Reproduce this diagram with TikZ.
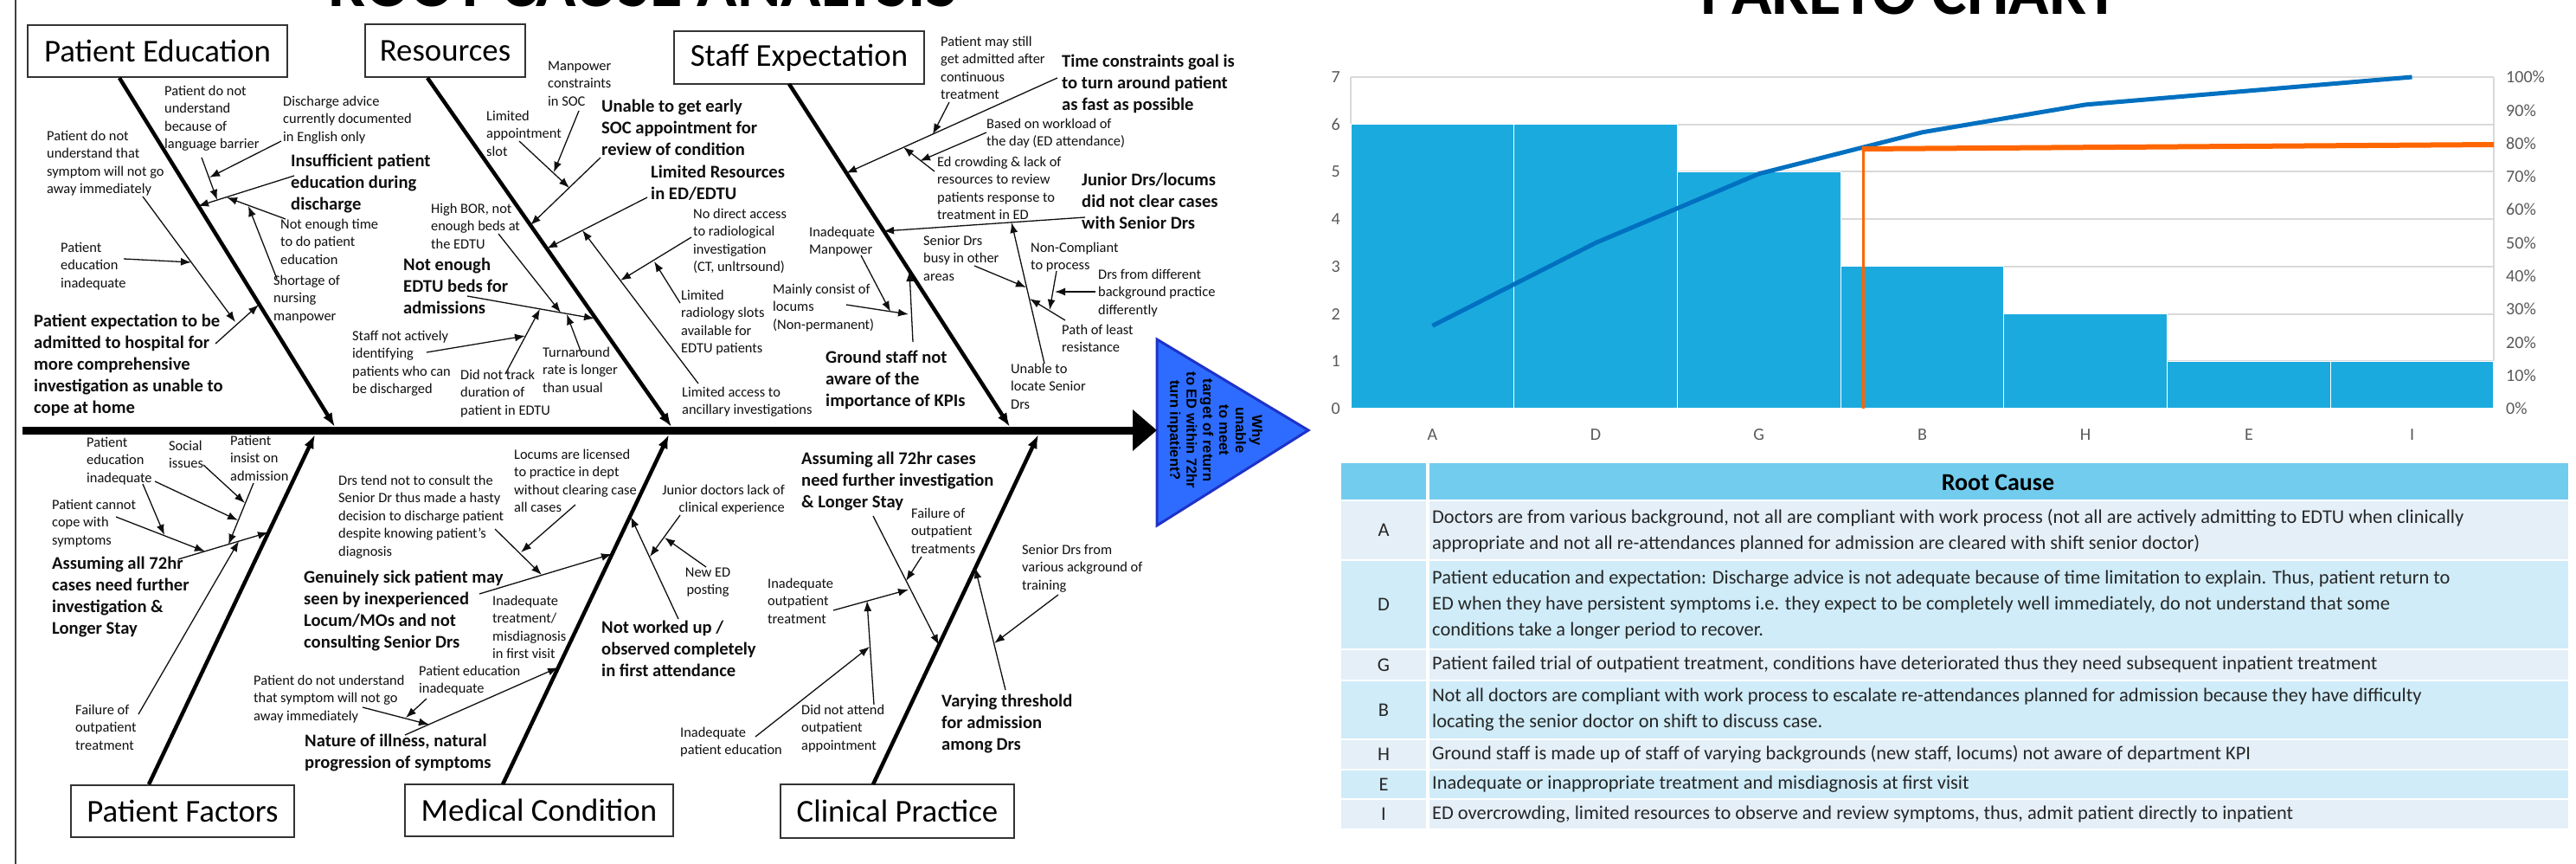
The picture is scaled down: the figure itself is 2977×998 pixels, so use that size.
\documentclass[tikz,border=0pt]{standalone}
\usepackage{fontspec}
\setmainfont{Carlito}
\newfontfamily\arialfont{Liberation Sans}
\usetikzlibrary{arrows.meta}
\definecolor{ink}{RGB}{15,15,15}
\definecolor{goalfill}{RGB}{45,108,255}
\definecolor{goaledge}{RGB}{30,50,200}
\definecolor{barblue}{RGB}{27,170,222}
\definecolor{cumblue}{RGB}{0,112,192}
\definecolor{orng}{RGB}{255,102,0}
\definecolor{gridgray}{RGB}{217,217,217}
\definecolor{axgray}{RGB}{89,89,89}
\definecolor{hdr}{RGB}{114,204,238}
\definecolor{rowL}{RGB}{228,239,248}
\definecolor{rowC}{RGB}{207,236,248}
\newcommand\txS[3]{\node[sm] (#1) at (#2) {\strut #3};}
\newcommand\txB[3]{\node[bd] (#1) at (#2) {\strut #3};}
\newcommand\arrw[3]{\coordinate (#1s) at (#2); \coordinate (#1e) at (#3); \draw[sub] (#1s) -- (#1e);}
\tikzset{
  sm/.style={font=\fontsize{16.4}{20.5}\selectfont, align=left, anchor=north west, inner sep=0pt, text=ink},
  bd/.style={font=\fontsize{20.6}{25}\selectfont\bfseries, align=left, anchor=north west, inner sep=0pt, text=ink},
  catbox/.style={draw=black!80, line width=1.6pt, inner sep=0pt, font=\fontsize{36.8}{44}\selectfont},
  sub/.style={draw=ink, line width=1.3pt, -{Latex[length=12pt,width=9pt]}},
  bone/.style={draw=black, line width=4.5pt, -{Latex[length=16pt,width=12pt]}},
  spine/.style={draw=black, line width=9pt, -{Triangle[length=28pt,width=46pt]}},
  axl/.style={font=\fontsize{20}{24}\selectfont, text=axgray, inner sep=0pt},
  tb/.style={font=\fontsize{22.4}{30}\selectfont, align=left, anchor=west, inner sep=0pt, text=black!85},
  tl/.style={font=\fontsize{22.4}{30}\selectfont, anchor=center, inner sep=0pt, text=black!85},
}
\begin{document}
\begin{tikzpicture}[x=1pt,y=-1pt]
\useasboundingbox (0,0) rectangle (2977,998);
\fill[white] (0,0) rectangle (2977,998);
% titles (cut at top)
\node[font=\fontsize{76.6}{80}\selectfont\bfseries, anchor=base, inner sep=0pt] (ttlRCA) at (743,8) {ROOT CAUSE ANALYSIS};
\node[font=\fontsize{76.6}{80}\selectfont\bfseries, anchor=base, inner sep=0pt] (ttlPC) at (2207,17) {PARETO CHART};
% frame line
\coordinate (frT) at (18,0); \coordinate (frB) at (18,998);
\draw[black!75, line width=2pt] (frT) -- (frB);

% ================= FISHBONE =================
% category boxes
\node[catbox, minimum width=300pt, minimum height=60pt] (cPE) at (182,59) {Patient Education};
\node[catbox, minimum width=185pt, minimum height=61pt] (cRS) at (514.5,58.5) {Resources};
\node[catbox, minimum width=289pt, minimum height=61pt] (cSE) at (923.5,66.5) {Staff Expectation};
\node[catbox, minimum width=258pt, minimum height=60pt] (cPF) at (211,937) {Patient Factors};
\node[catbox, minimum width=310pt, minimum height=60pt] (cMC) at (623,936) {Medical Condition};
\node[catbox, minimum width=270pt, minimum height=62pt] (cCP) at (1037,937) {Clinical Practice};

% goal triangle
\coordinate (g1) at (1337,392); \coordinate (g2) at (1512,497); \coordinate (g3) at (1337,607);
\filldraw[fill=goalfill, draw=goaledge, line width=3pt, line join=miter] (g1) -- (g2) -- (g3) -- cycle;
\node[rotate=-90, align=center, inner sep=0pt, font=\arialfont\bfseries\fontsize{16.5}{19}\selectfont] (goal) at (1404,497) {Why\\unable\\to meet\\target of return\\to ED within 72hr\\turn inpatient?};

% spine
\coordinate (spL) at (26,497); \coordinate (spR) at (1337,497);
\draw[spine] (spL) -- (spR);

% bones
\coordinate (b1s) at (138,90); \coordinate (b1e) at (387,493);
\coordinate (b2s) at (494,90); \coordinate (b2e) at (776,493);
\coordinate (b3s) at (912,97); \coordinate (b3e) at (1167,493);
\coordinate (b4s) at (172,906); \coordinate (b4e) at (364,502);
\coordinate (b5s) at (581,906); \coordinate (b5e) at (773,502);
\coordinate (b6s) at (1009,906); \coordinate (b6e) at (1200,502);
\draw[bone] (b1s) -- (b1e);
\draw[bone] (b2s) -- (b2e);
\draw[bone] (b3s) -- (b3e);
\draw[bone] (b4s) -- (b4e);
\draw[bone] (b5s) -- (b5e);
\draw[bone] (b6s) -- (b6e);

% ---- Patient Education ----
\txS{p1}{190,95.6}{Patient do not\\understand\\because of\\language barrier}
\txS{p2}{327,107.6}{Discharge advice\\currently documented\\in English only}
\txS{p3}{54,147.6}{Patient do not\\understand that\\symptom will not go\\away immediately}
\txB{p4}{336,174.5}{Insufficient patient\\education during\\discharge}
\txS{p5}{324,249.6}{Not enough time\\to do patient\\education}
\txS{p6}{70,276.6}{Patient\\education\\inadequate}
\txS{p7}{316,314.6}{Shortage of\\nursing\\manpower}
\txB{p8}{39,359.5}{Patient expectation to be\\admitted to hospital for\\more comprehensive\\investigation as unable to\\cope at home}
\arrw{pa1}{340,203}{229,238}
\arrw{pa2}{325,163}{242,205}
\arrw{pa3}{233,182}{251,231}
\arrw{pa4}{330,253}{262,228}
\arrw{pa5}{320,322}{287,238}
\arrw{pa6}{249,397}{299,352}
\arrw{pa7}{165,227}{272,372}
\arrw{pa8}{143,299}{221,303}

% ---- Resources ----
\txS{r1}{633,66.6}{Manpower\\constraints\\in SOC}
\txS{r2}{562,124.6}{Limited\\appointment\\slot}
\txB{r3}{695,111.5}{Unable to get early\\SOC appointment for\\review of condition}
\txB{r4}{752,187.5}{Limited Resources\\in ED/EDTU}
\txS{r5}{801,237.6}{No direct access\\to  radiological\\investigation\\(CT,  unltrsound)}
\txS{r6}{498,231.6}{High BOR, not\\enough beds at\\the EDTU}
\txB{r7}{466,294.5}{Not enough\\EDTU beds for\\admissions}
\txS{r8}{787,331.6}{Limited\\radiology slots\\available for\\EDTU patients}
\txS{r9}{407,378.6}{Staff not actively\\identifying\\patients who can\\be discharged}
\txS{r10}{532,423.6}{Did not track\\duration of\\patient in EDTU}
\txS{r11}{627,397.6}{Turnaround\\rate is longer\\than usual}
\txS{r12}{788,443.6}{Limited access to\\ancillary investigations}
\arrw{ra1}{694,182}{613,260}
\arrw{ra2}{600,163}{658,217}
\arrw{ra3}{669,128}{640,199}
\arrw{ra4}{748,228}{632,287}
\arrw{ra5}{807,443}{673,266}
\arrw{ra6}{799,274}{717,324}
\arrw{ra7}{786,350}{756,302}
\arrw{ra8}{540,342}{687,368}
\arrw{ra9}{576,270}{648,361}
\arrw{ra10}{584,432}{624,357}
\arrw{ra11}{493,407}{607,388}
\arrw{ra12}{672,408}{655,363}

% ---- Staff Expectation ----
\txS{s1}{1087,38.6}{Patient may still\\get admitted after\\continuous\\treatment}
\txB{s2}{1227,59.5}{Time constraints goal is\\to turn around patient\\as fast as possible}
\txS{s3}{1140,133.6}{Based on workload of\\the day (ED attendance)}
\txS{s4}{1083,177.6}{Ed crowding \& lack of\\resources to review\\patients response to\\treatment in ED}
\txB{s5}{1250,196.5}{Junior Drs/locums\\did not clear cases\\with Senior Drs}
\txS{s6}{935,258.6}{Inadequate\\Manpower}
\txS{s7}{1067,268.6}{Senior Drs\\busy in other\\areas}
\txS{s8}{1191,276.6}{Non-Compliant\\to process}
\txS{s9}{1269,307.6}{Drs from different\\background practice\\differently}
\txS{s10}{893,324.6}{Mainly consist of\\locums\\(Non-permanent)}
\txS{s11}{1227,371.6}{Path of least\\resistance}
\txB{s12}{954,401.5}{Ground staff not\\aware of the\\importance of KPIs}
\txS{s13}{1168,416.6}{Unable to\\locate Senior\\Drs}
\arrw{sa1}{1222,90}{978,200}
\arrw{sa2}{1097,118}{1078,155}
\arrw{sa3}{1080,198}{1044,170}
\arrw{sa4}{1140,153}{1063,186}
\arrw{sa5}{1254,251}{1021,267}
\arrw{sa6}{1207,420}{1169,257}
\arrw{sa7}{1126,307}{1186,332}
\arrw{sa8}{1231,370}{1190,345}
\arrw{sa9}{1221,313}{1213,358}
\arrw{sa10}{1266,337}{1219,337}
\arrw{sa11}{1055,395}{1051,313}
\arrw{sa12}{978,352}{1050,363}
\arrw{sa13}{995,295}{1029,360}

% ---- Patient Factors ----
\txS{f1}{100,501.6}{Patient\\education\\inadequate}
\txS{f2}{195,505.6}{Social\\issues}
\txS{f3}{266,499.6}{Patient\\insist on\\admission}
\txS{f4}{60,573.6}{Patient cannot\\cope with\\symptoms}
\txB{f5}{60,639.5}{Assuming all 72hr\\cases need further\\investigation \&\\Longer Stay}
\txS{f6}{87,810.6}{Failure of\\outpatient\\treatment}
\arrw{fa1}{206,646}{310,615}
\arrw{fa2}{134,597}{237,637}
\arrw{fa3}{165,559}{190,618}
\arrw{fa4}{179,556}{275,601}
\arrw{fa5}{235,537}{283,581}
\arrw{fa6}{293,558}{264,629}
\arrw{fa7}{160,825}{276,625}

% ---- Medical Condition ----
\txS{m1}{391,545.6}{Drs tend not to consult the\\Senior Dr thus made a hasty\\decision to discharge patient\\despite knowing patient’s\\diagnosis}
\txS{m2}{594,515.6}{Locums are licensed\\to practice in dept\\without clearing case\\all cases}
\txB{m3}{351,655.5}{Genuinely sick patient may\\seen by inexperienced\\Locum/MOs and not\\consulting Senior Drs}
\txS{m4}{569,684.6}{Inadequate\\treatment/\\misdiagnosis\\in first visit}
\txS{m5}{293,776.6}{Patient do not understand\\that symptom will not go\\away immediately}
\txS{m6}{484,765.6}{Patient education\\inadequate}
\txB{m7}{352,844.5}{Nature of illness, natural\\progression of symptoms}
\node[sm, anchor=north east, align=right] (m8) at (907,556.6) {\strut Junior doctors lack of\\clinical experience};
\node[sm, anchor=north, align=center] (m9) at (818,651.6) {\strut New ED\\posting};
\txB{m10}{695,713.5}{Not worked up /\\observed  completely\\in first attendance}
\arrw{ma1}{554,686}{707,640}
\arrw{ma2}{572,611}{626,664}
\arrw{ma3}{665,583}{602,638}
\arrw{ma4}{468,849}{645,771}
\arrw{ma5}{419,817}{496,837}
\arrw{ma6}{493,807}{469,829}
\arrw{ma7}{784,715}{729,597}
\arrw{ma8}{786,595}{751,643}
\arrw{ma9}{816,655}{768,621}

% ---- Clinical Practice ----
\txB{c1}{926,518.5}{Assuming all 72hr cases\\need further investigation\\\& Longer Stay}
\txS{c2}{1053,583.6}{Failure of\\outpatient\\treatments}
\txS{c3}{887,664.6}{Inadequate\\outpatient\\treatment}
\txS{c4}{1181,625.6}{Senior Drs from\\various ackground of\\training}
\txS{c5}{926,810.6}{Did not attend\\outpatient\\appointment}
\txS{c6}{786,836.6}{Inadequate\\patient education}
\txB{c7}{1088,798.5}{Varying threshold\\for admission\\among Drs}
\arrw{ca1}{1009,596}{1085,745}
\arrw{ca2}{1065,643}{1047,671}
\arrw{ca3}{963,705}{1050,681}
\arrw{ca4}{1010,814}{1002,694}
\arrw{ca5}{873,851}{1005,747}
\arrw{ca6}{1162,797}{1127,656}
\arrw{ca7}{1223,687}{1149,743}

% ================= PARETO CHART =================
\foreach \v in {0,...,7} \draw[gridgray, line width=2pt] (1561,{472-54.714*\v}) -- (2882,{472-54.714*\v});
\draw[gridgray, line width=2pt] (1561,89) -- (1561,472) (2882,89) -- (2882,472);
\foreach \i/\v/\c in {0/6/A,1/6/D,2/5/G,3/3/B,4/2/H,5/1/E,6/1/I} {
  \filldraw[fill=barblue, draw=white, line width=1.2pt] ({1561+188.71*\i},472) rectangle ({1561+188.71*(\i+1)},{472-54.714*\v});
  \node[axl] (cat\c) at ({1561+188.71*(\i+0.5)},502) {\c};
}
\foreach \v in {0,...,7} \node[axl, anchor=east] (yl\v) at (1549,{472-54.714*\v}) {\v};
\foreach \p in {0,10,...,100} \node[axl, anchor=west] (pl\p) at (2896,{472-3.83*\p}) {\p\%};
\draw[cumblue, line width=5pt, line join=round] (1655.4,376.3) -- (1844.1,280.5) -- (2032.8,200.7) -- (2221.5,152.8) -- (2410.1,120.9) -- (2598.8,104.9) -- (2787.5,89);
\draw[orng, line width=3pt] (2153,472) -- (2153,171);
\draw[orng, line width=6pt] (2151.5,172) -- (2882,167);

% ================= TABLE =================
\fill[hdr] (1550,535) rectangle (1648,577);
\fill[hdr] (1652,535) rectangle (2968,577);
\node[font=\fontsize{28}{32}\selectfont\bfseries, inner sep=0pt] (hdrRC) at (2309,557) {Root Cause};
\foreach \y/\z/\col/\k in {579/646/rowL/A,648/749/rowC/D,751/785/rowL/G,787/853/rowC/B,855/888/rowL/H,890/922/rowC/E,924/957/rowL/I} {
  \fill[\col] (1550,\y) rectangle (1648,\z);
  \fill[\col] (1652,\y) rectangle (2968,\z);
  \node[tl] (lt\k) at (1599,{(\y+\z)/2}) {\k};
}
\node[tb] (tA) at (1655,613) {Doctors are from various background, not all are compliant with work process (not all are actively admitting to EDTU when clinically\\appropriate and not all re-attendances planned for admission are cleared with shift senior doctor)};
\node[tb] (tD) at (1655,699) {Patient education and expectation: Discharge advice is not  adequate because of time limitation to explain. Thus, patient return to\\ED when they have persistent symptoms i.e. they expect  to be completely well immediately, do not understand that some\\conditions take a longer period to recover.};
\node[tb] (tG) at (1655,768) {Patient failed trial of outpatient treatment, conditions have deteriorated thus they need subsequent inpatient treatment};
\node[tb] (tB) at (1655,820) {Not all doctors are compliant with work process to escalate re-attendances planned for admission because they have difficulty\\locating the senior doctor on shift to discuss case.};
\node[tb] (tH) at (1655,871.5) {Ground staff is made up of staff of varying backgrounds (new staff,  locums) not aware of department KPI};
\node[tb] (tE) at (1655,906) {Inadequate or inappropriate treatment and misdiagnosis at first  visit};
\node[tb] (tI) at (1655,940.5) {ED overcrowding, limited resources to observe and review symptoms, thus, admit patient directly to inpatient};
\end{tikzpicture}
\end{document}
